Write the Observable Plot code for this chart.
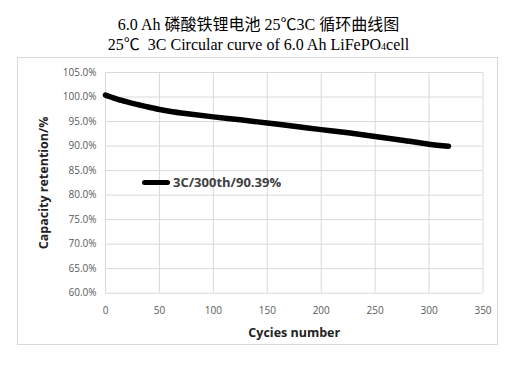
<!DOCTYPE html>
<html>
<head>
<meta charset="utf-8">
<script src="https://cdn.jsdelivr.net/npm/d3@7"></script>
<script src="https://cdn.jsdelivr.net/npm/@observablehq/plot@0.6"></script>
<style>
  html, body { margin: 0; padding: 0; background: #fff; }
  body { width: 517px; height: 368px; position: relative; overflow: hidden; }
  .title { position: absolute; left: 0; width: 517px; text-align: center;
           font-family: "Liberation Serif", "Noto Sans CJK SC", serif; font-size: 16px;
           line-height: 20px; color: #000; white-space: nowrap; }
  #box { position: absolute; left: 17px; top: 57px; width: 481px; height: 288px;
         box-sizing: border-box; border: 1px solid #d9d9d9; }
  #legend-bar { position: absolute; left: 142px; top: 179.5px; width: 28px; height: 5px;
                border-radius: 3px; background: #000; }
  #legend-text { position: absolute; left: 173px; top: 174px; line-height: 16px;
                 font-family: "Open Sans", sans-serif; font-weight: bold; font-size: 13px;
                 color: #404040; white-space: nowrap; }
</style>
</head>
<body>
<div class="title" style="top:14.5px">6.0 Ah 磷酸铁锂电池 25℃3C 循环曲线图</div>
<div class="title" style="top:34.5px">25℃&nbsp;&nbsp;3C Circular curve of 6.0 Ah LiFePO<span style="font-size:10px">4</span>cell</div>
<div id="box"></div>
<div id="legend-bar"></div>
<div id="legend-text"></div>
<script>
const cycles    = [0, 5, 10, 15, 20, 27, 35, 49, 62, 76, 100, 125, 150, 175, 200, 225, 250, 275, 300, 318];
const retention = [100.4, 100.0, 99.6, 99.3, 99.0, 98.6, 98.2, 97.5, 97.0, 96.6, 95.95, 95.35, 94.7, 94.05, 93.35, 92.7, 91.95, 91.2, 90.39, 89.95];
const xTicks = [0, 50, 100, 150, 200, 250, 300, 350];
const yTicks = [60, 65, 70, 75, 80, 85, 90, 95, 100, 105];
const seriesName = "3C/300th/90.39%";
const xLabel = "Cycies number";
const yLabel = "Capacity retention/%";

const data = cycles.map((c, i) => ({cycle: c, value: retention[i] / 100}));
const yTickVals = yTicks.map(v => v / 100);

const chart = Plot.plot({
  width: 479,
  height: 286,
  marginLeft: 87,
  marginRight: 14.5,
  marginTop: 14,
  marginBottom: 51.3,
  style: {fontFamily: "'Open Sans', sans-serif", fontSize: "10px", color: "#595959", background: "transparent"},
  x: {domain: [0, 350]},
  y: {domain: [0.60, 1.05]},
  marks: [
    Plot.gridY(yTickVals, {stroke: "#d9d9d9", strokeOpacity: 1}),
    Plot.gridX(xTicks, {stroke: "#d9d9d9", strokeOpacity: 1}),
    Plot.axisY(yTickVals, {tickSize: 0, tickPadding: 9, tickFormat: d3.format(".1%"), label: null}),
    Plot.axisX(xTicks, {tickSize: 0, tickPadding: 14, tickFormat: d3.format("d"), label: null}),
    Plot.line(data, {x: "cycle", y: "value", stroke: "#000", strokeWidth: 5.5,
                     strokeLinecap: "round", strokeLinejoin: "round", curve: "monotone-x"}),
    Plot.text([xLabel], {frameAnchor: "bottom", dy: 40, lineAnchor: "middle", textAnchor: "middle",
                         fontWeight: "bold", fontSize: 12.5, fill: "#222"}),
    Plot.text([yLabel], {frameAnchor: "left", dx: -62, rotate: -90, lineAnchor: "middle", textAnchor: "middle",
                         fontWeight: "bold", fontSize: 12.5, fill: "#222"})
  ]
});
document.getElementById("box").appendChild(chart);
document.getElementById("legend-text").textContent = seriesName;
</script>
</body>
</html>
